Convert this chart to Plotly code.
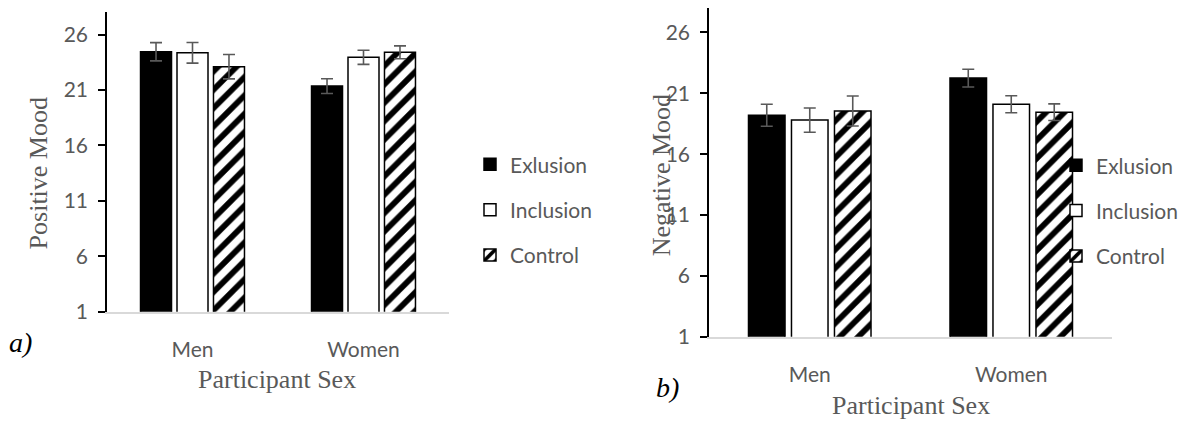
import plotly.graph_objects as go

categories = ["Men", "Women"]
conditions = ["Exlusion", "Inclusion", "Control"]

pos_exclusion = [24.45, 21.35]
pos_inclusion = [24.35, 23.95]
pos_control = [23.1, 24.4]
pos_err_exclusion = [0.82, 0.66]
pos_err_inclusion = [0.93, 0.64]
pos_err_control = [1.1, 0.58]

neg_exclusion = [19.2, 22.25]
neg_inclusion = [18.8, 20.1]
neg_control = [19.55, 19.45]
neg_err_exclusion = [0.9, 0.73]
neg_err_inclusion = [1.0, 0.7]
neg_err_control = [1.23, 0.68]

y_ticks = [1, 6, 11, 16, 21, 26]

W, H = 1190, 428
GRAY = "#595959"
TICKFONT = dict(family="Lato, Calibri, sans-serif", size=21, color=GRAY)

styles = {
    "Exlusion": dict(color="black", pattern=None),
    "Inclusion": dict(color="white", pattern=None),
    "Control": dict(color="white", pattern=dict(shape="/", fgcolor="#000000", bgcolor="#ffffff",
                                                 fgopacity=1, fillmode="replace",
                                                 size=13, solidity=0.45)),
}

fig = go.Figure()

panels = [
    ("x", "y", "legend", [pos_exclusion, pos_inclusion, pos_control],
     [pos_err_exclusion, pos_err_inclusion, pos_err_control]),
    ("x2", "y2", "legend2", [neg_exclusion, neg_inclusion, neg_control],
     [neg_err_exclusion, neg_err_inclusion, neg_err_control]),
]

for xa, ya, lg, vals, errs in panels:
    for i, cond in enumerate(conditions):
        st = styles[cond]
        marker = dict(color=st["color"], line=dict(color="black", width=1.5), opacity=1)
        if st["pattern"]:
            marker["pattern"] = st["pattern"]
        fig.add_trace(go.Bar(
            x=categories, y=vals[i], name=cond, xaxis=xa, yaxis=ya,
            marker=marker, legend=lg, legendgroup=lg + cond,
            error_y=dict(type="data", array=errs[i], visible=True,
                         color=GRAY, thickness=1.6, width=6),
        ))

def px_x(p):
    return p / W

def px_y(p):
    return 1 - p / H

axis_common = dict(showgrid=False, zeroline=False)

fig.update_layout(
    width=W, height=H,
    margin=dict(l=0, r=0, t=0, b=0),
    paper_bgcolor="white", plot_bgcolor="white",
    barmode="group", bargap=0.36, bargroupgap=0.15,
    xaxis=dict(domain=[px_x(107), px_x(449)], anchor="y", showline=True,
               linecolor="#d9d9d9", linewidth=1.5, ticks="", tickfont=TICKFONT,
               ticklabelstandoff=18, **axis_common),
    yaxis=dict(domain=[px_y(320), px_y(12.7)], anchor="x", range=[1, 28],
               tickvals=y_ticks, showline=True, linecolor="black", linewidth=1.5,
               ticks="outside", ticklen=7, tickcolor="black", tickwidth=1.5,
               ticklabelstandoff=6, tickfont=TICKFONT, **axis_common),
    xaxis2=dict(domain=[px_x(709), px_x(1112)], anchor="y2", showline=True,
                linecolor="#d9d9d9", linewidth=1.5, ticks="", tickfont=TICKFONT,
                ticklabelstandoff=18, **axis_common),
    yaxis2=dict(domain=[px_y(345.7), px_y(8.3)], anchor="x2", range=[1, 28],
                tickvals=y_ticks, showline=True, linecolor="black", linewidth=1.5,
                ticks="outside", ticklen=7, tickcolor="black", tickwidth=1.5,
                ticklabelstandoff=6, tickfont=TICKFONT, **axis_common),
    legend=dict(x=px_x(470), y=px_y(148), xanchor="left", yanchor="top",
                font=TICKFONT, bgcolor="rgba(0,0,0,0)", traceorder="grouped",
                tracegroupgap=15),
    legend2=dict(x=px_x(1056), y=px_y(149), xanchor="left", yanchor="top",
                 font=TICKFONT, bgcolor="rgba(0,0,0,0)", traceorder="grouped",
                 tracegroupgap=15),
)

serif_gray = dict(family="Liberation Serif, Times New Roman, serif", size=26, color=GRAY)
serif_black = dict(family="Liberation Serif, Times New Roman, serif", size=28, color="black")

annotations = [
    dict(text="Positive Mood", x=px_x(38), y=px_y(178), textangle=-90, font=serif_gray),
    dict(text="Participant Sex", x=px_x(277), y=px_y(389), font=serif_gray),
    dict(text="<i>a)</i>", x=px_x(20), y=px_y(352), font=serif_black),
    dict(text="Negative Mood", x=px_x(661), y=px_y(180), textangle=-90, font=serif_gray),
    dict(text="Participant Sex", x=px_x(911), y=px_y(416), font=serif_gray),
    dict(text="<i>b)</i>", x=px_x(667), y=px_y(398), font=serif_black),
]
for a in annotations:
    a.update(xref="paper", yref="paper", showarrow=False, xanchor="center", yanchor="middle")
fig.update_layout(annotations=annotations)

fig.write_html("out.html")
